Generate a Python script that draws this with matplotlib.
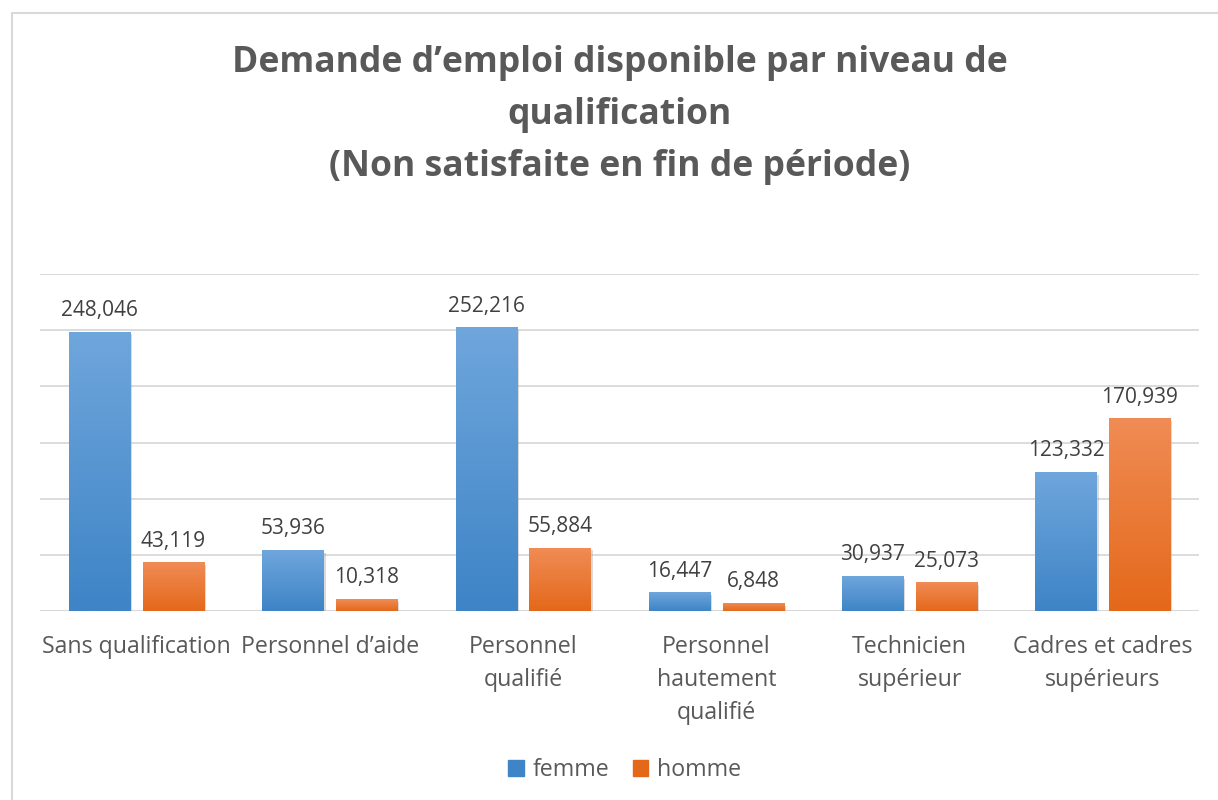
# Demande d'emploi par niveau de qualification - bar chart
import matplotlib.pyplot as plt
import matplotlib.patheffects as pe
import numpy as np
from matplotlib.colors import LinearSegmentedColormap
from matplotlib.patches import Rectangle

categories = ['Sans qualification', 'Personnel d\u2019aide', 'Personnel\nqualifié',
              'Personnel\nhautement\nqualifié', 'Technicien\nsupérieur',
              'Cadres et cadres\nsupérieurs']
femme = [248046, 53936, 252216, 16447, 30937, 123332]
homme = [43119, 10318, 55884, 6848, 25073, 170939]
series = ['femme', 'homme']

plt.rcParams['font.family'] = ['Open Sans', 'DejaVu Sans']
text_color = '#595959'
grads = {'femme': ('#3e84c6', '#6fa6dc'), 'homme': ('#e4681a', '#f08c55')}

fig = plt.figure(figsize=(12.18, 8), dpi=100)
ax = fig.add_axes([0.0328, 0.236, 0.952, 0.4215])

# chart border
fig.patches.append(Rectangle((12 / 1218, -0.1), 1.2, 0.1 + 787 / 800, transform=fig.transFigure,
                             fill=False, edgecolor='#d9d9d9', linewidth=1.5))

x = np.arange(len(categories))
width = 0.316
offset = 0.191


def gradient_bars(bars, bottom, top):
    cmap = LinearSegmentedColormap.from_list('g', [bottom, top])
    grad = np.linspace(0, 1, 256).reshape(-1, 1)
    for p in bars:
        p.set_path_effects([pe.SimplePatchShadow(offset=(1.5, -1.5), shadow_rgbFace='#999999', alpha=0.35),
                            pe.Normal()])
        ax.imshow(grad, extent=[p.get_x(), p.get_x() + p.get_width(), 0, p.get_height()],
                  origin='lower', cmap=cmap, aspect='auto', zorder=3)


for vals, name, sign in [(femme, 'femme', -1), (homme, 'homme', 1)]:
    bottom, top = grads[name]
    bars = ax.bar(x + sign * offset, vals, width, color=bottom, zorder=2, label=name)
    gradient_bars(bars, bottom, top)
    for xi, v in zip(x + sign * offset, vals):
        ax.annotate(f'{v:,}', (xi, v), xytext=(0, 8), textcoords='offset points',
                    ha='center', va='bottom', fontsize=15, color='#404040')

ax.set_xlim(-0.5, 5.5)
ax.set_ylim(0, 300000)
ax.set_yticks(np.arange(0, 300001, 50000))
ax.set_yticklabels([])
ax.tick_params(axis='y', length=0)
ax.grid(axis='y', color='#d9d9d9', linewidth=1.3, zorder=0)
ax.set_axisbelow(True)
for s in ax.spines.values():
    s.set_visible(False)
ax.axhline(0, color='#d9d9d9', linewidth=1.5, zorder=1)

ax.set_xticks(x)
ax.set_xticklabels(categories, fontsize=16.7, color=text_color, linespacing=1.5)
ax.tick_params(axis='x', length=0, pad=17)

fig.text(0.509, 1 - 115 / 800,
         'Demande d\u2019emploi disponible par niveau de\nqualification\n(Non satisfaite en fin de période)',
         ha='center', va='center', fontsize=25.6, fontweight='bold', color=text_color, linespacing=1.6)

handles = [Rectangle((0, 0), 1, 1, color=grads[n][0]) for n in series]
fig.legend(handles, series, loc='center', bbox_to_anchor=(0.513, 1 - 770 / 800), ncol=2,
           frameon=False, fontsize=16.7, handlelength=0.65, handleheight=0.65,
           handletextpad=0.4, columnspacing=1.0, labelcolor=text_color)

fig.savefig('out.png', dpi=100)
